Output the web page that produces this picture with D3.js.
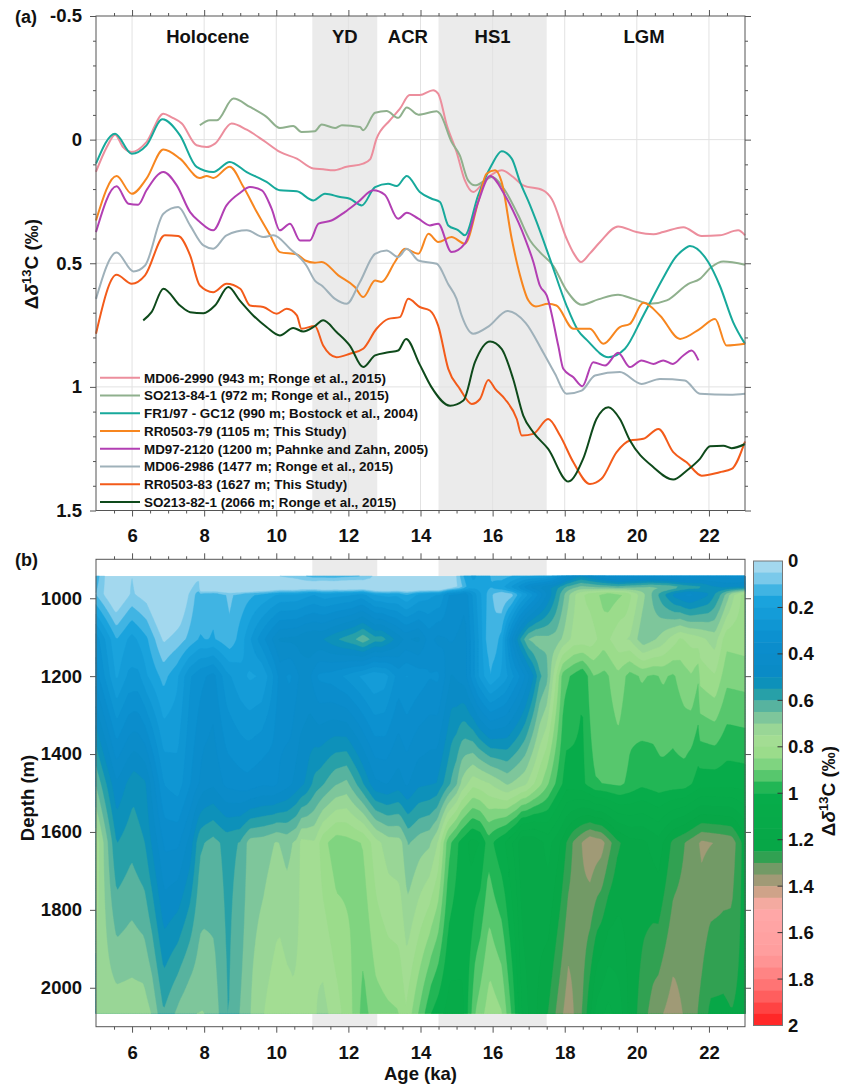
<!DOCTYPE html>
<html><head><meta charset="utf-8">
<script src="https://cdn.jsdelivr.net/npm/d3@7"></script>
<style>
body{margin:0;background:#fff}
text{font-family:"Liberation Sans",Arial,Helvetica,sans-serif;font-weight:bold;fill:#111}
</style></head>
<body><svg id="c" width="848" height="1088"></svg>
<script>
// ---------- data ----------
const coreNames = [
 "MD06-2990 (943 m; Ronge et al., 2015)",
 "SO213-84-1 (972 m; Ronge et al., 2015)",
 "FR1/97 - GC12 (990 m; Bostock et al., 2004)",
 "RR0503-79 (1105 m; This Study)",
 "MD97-2120 (1200 m; Pahnke and Zahn, 2005)",
 "MD06-2986 (1477 m; Ronge et al., 2015)",
 "RR0503-83 (1627 m; This Study)",
 "SO213-82-1 (2066 m; Ronge et al., 2015)"];
const coreDepths = [943, 972, 990, 1105, 1200, 1477, 1627, 2066];

const md062990 = [[5,0.13],[5.3,0.03],[5.53,-0.02],[5.75,0.03],[5.99,0.05],[6.4,0.01],[6.87,-0.105],[7.1,-0.09],[7.38,-0.065],[7.79,0.023],[8.07,0.03],[8.3,0.016],[8.76,-0.065],[9.18,-0.04],[9.64,0.003],[10.1,0.05],[10.57,0.077],[11.03,0.117],[11.3,0.12],[11.58,0.124],[11.95,0.11],[12.41,0.097],[12.6,0.08],[12.78,-0.004],[13.15,-0.078],[13.43,-0.125],[13.7,-0.18],[13.98,-0.18],[14.35,-0.2],[14.49,-0.186],[14.73,-0.058],[15.0,0.05],[15.23,0.165],[15.46,0.212],[15.83,0.158],[16.25,0.124],[16.57,0.151],[16.85,0.185],[17.4,0.205],[17.64,0.24],[18.05,0.4],[18.25,0.46],[18.45,0.495],[18.7,0.46],[18.98,0.414],[19.48,0.351],[19.99,0.374],[20.46,0.383],[20.73,0.374],[21.29,0.354],[21.8,0.39],[22.3,0.387],[22.81,0.367],[23,0.387]];
const so213841 = [[7.88,-0.058],[8.16,-0.078],[8.35,-0.078],[8.81,-0.166],[9.27,-0.132],[9.73,-0.092],[10.1,-0.047],[10.47,-0.055],[10.7,-0.031],[11.07,-0.034],[11.26,-0.061],[11.63,-0.047],[11.82,-0.058],[12.32,-0.051],[12.41,-0.038],[12.74,-0.109],[13.06,-0.116],[13.38,-0.088],[13.62,-0.13],[13.94,-0.101],[14.45,-0.115],[14.54,-0.105],[14.86,0.009],[15.09,0.064],[15.32,0.165],[15.51,0.185],[15.79,0.165],[15.97,0.151],[16.34,0.205],[16.71,0.306],[17.04,0.408],[17.31,0.455],[17.68,0.51],[18.05,0.61],[18.47,0.668],[18.93,0.646],[19.48,0.627],[19.9,0.644],[20.36,0.664],[20.83,0.65],[21.43,0.583],[21.75,0.563],[22.07,0.515],[22.4,0.493],[23,0.506]];
const fr197gc12 = [[5,0.097],[5.53,-0.024],[5.99,0.057],[6.4,0.023],[6.84,-0.082],[7.33,-0.017],[7.79,0.11],[8.25,0.131],[8.71,0.09],[9.18,0.131],[9.73,0.171],[10.1,0.205],[10.57,0.209],[11.03,0.246],[11.35,0.219],[11.77,0.232],[12.04,0.239],[12.37,0.266],[12.74,0.192],[13.1,0.178],[13.34,0.188],[13.62,0.147],[13.98,0.212],[14.31,0.239],[14.54,0.252],[14.77,0.347],[15.05,0.367],[15.23,0.387],[15.6,0.225],[15.97,0.104],[16.25,0.047],[16.53,0.077],[16.76,0.171],[17.04,0.266],[17.22,0.333],[17.59,0.482],[18.05,0.671],[18.37,0.772],[18.61,0.81],[19.21,0.88],[19.67,0.846],[20.18,0.711],[20.73,0.56],[21.05,0.48],[21.33,0.441],[21.47,0.43],[21.98,0.495],[22.3,0.59],[22.67,0.738],[23,0.826]];
const rr050379 = [[5,0.327],[5.57,0.147],[5.99,0.219],[6.4,0.158],[6.87,0.04],[7.33,0.077],[7.88,0.155],[8.07,0.147],[8.25,0.155],[8.71,0.11],[9.09,0.192],[9.46,0.293],[9.83,0.387],[10.1,0.455],[10.57,0.464],[10.8,0.489],[11.07,0.498],[11.26,0.495],[11.72,0.549],[12.18,0.596],[12.41,0.637],[12.74,0.57],[12.92,0.576],[13.29,0.495],[13.57,0.441],[13.94,0.462],[14.22,0.381],[14.49,0.414],[14.86,0.394],[15.23,0.421],[15.6,0.252],[15.83,0.138],[16.07,0.124],[16.25,0.171],[16.53,0.401],[16.76,0.549],[16.99,0.65],[17.2,0.675],[17.54,0.664],[17.77,0.671],[18.24,0.765],[18.7,0.765],[19.07,0.826],[19.53,0.758],[19.81,0.745],[20.18,0.66],[20.64,0.711],[21.2,0.806],[21.75,0.765],[22.17,0.725],[22.49,0.833],[23,0.826]];
const md972120 = [[5,0.374],[5.57,0.189],[5.9,0.259],[6.17,0.263],[6.4,0.205],[6.87,0.131],[7.24,0.185],[7.61,0.293],[7.88,0.333],[8.25,0.367],[8.62,0.266],[9.0,0.215],[9.27,0.192],[9.6,0.205],[9.87,0.279],[10.1,0.367],[10.38,0.34],[10.66,0.408],[10.93,0.408],[11.17,0.34],[11.53,0.327],[11.9,0.293],[12.27,0.252],[12.69,0.205],[13.01,0.223],[13.38,0.32],[13.62,0.296],[13.94,0.32],[14.26,0.347],[14.49,0.34],[14.86,0.455],[15.23,0.421],[15.6,0.252],[15.93,0.147],[16.34,0.225],[16.71,0.333],[16.9,0.4],[17.13,0.495],[17.31,0.59],[17.5,0.63],[17.82,0.833],[17.96,0.927],[18.24,0.961],[18.49,0.997],[18.79,0.9],[19.12,0.914],[19.48,0.862],[19.81,0.92],[20.13,0.893],[20.46,0.907],[20.73,0.893],[21.0,0.907],[21.29,0.873],[21.52,0.853],[21.71,0.893]];
const md062986 = [[5,0.644],[5.57,0.457],[6.04,0.533],[6.36,0.509],[6.87,0.3],[7.28,0.273],[7.61,0.347],[7.98,0.428],[8.25,0.441],[8.62,0.387],[9.18,0.367],[9.64,0.394],[9.92,0.387],[10.38,0.441],[10.84,0.51],[11.07,0.57],[11.26,0.59],[11.63,0.644],[11.95,0.664],[12.32,0.576],[12.74,0.462],[13.06,0.448],[13.38,0.475],[13.62,0.441],[13.94,0.489],[14.45,0.502],[14.77,0.585],[15.0,0.644],[15.14,0.711],[15.46,0.785],[15.9,0.754],[16.41,0.693],[16.92,0.742],[17.4,0.86],[17.73,0.947],[18.05,1.028],[18.47,1.015],[18.84,0.954],[19.53,0.94],[20.13,0.988],[20.64,0.968],[21.33,0.974],[21.75,1.028],[22.58,1.032],[23,1.028]];
const rr050383 = [[5,0.785],[5.57,0.547],[5.99,0.583],[6.36,0.549],[6.91,0.387],[7.28,0.39],[7.61,0.468],[7.88,0.59],[8.25,0.617],[8.62,0.583],[9.0,0.603],[9.27,0.671],[9.64,0.677],[10.01,0.704],[10.29,0.684],[10.57,0.711],[10.7,0.765],[11.07,0.754],[11.3,0.833],[11.67,0.88],[12.04,0.866],[12.41,0.846],[12.78,0.765],[13.11,0.725],[13.43,0.718],[13.66,0.644],[13.98,0.677],[14.26,0.691],[14.49,0.752],[14.77,0.927],[15.09,1.008],[15.42,1.069],[15.65,1.049],[15.88,0.972],[16.07,1.008],[16.34,1.049],[16.67,1.13],[16.81,1.197],[17.13,1.19],[17.54,1.13],[17.87,1.197],[18.24,1.305],[18.7,1.393],[19.02,1.372],[19.44,1.264],[19.81,1.217],[20.18,1.21],[20.6,1.17],[21.01,1.264],[21.38,1.305],[21.8,1.359],[22.3,1.345],[22.63,1.332],[23,1.221]];
const so213821 = [[6.31,0.731],[6.54,0.698],[6.87,0.603],[7.33,0.671],[7.61,0.698],[7.98,0.702],[8.3,0.671],[8.67,0.596],[8.99,0.651],[9.36,0.711],[9.73,0.758],[10.1,0.792],[10.47,0.762],[10.75,0.776],[11.07,0.754],[11.3,0.731],[11.67,0.778],[12.04,0.833],[12.41,0.92],[12.74,0.873],[13.11,0.86],[13.38,0.853],[13.6,0.806],[13.98,0.91],[14.3,1.0],[14.82,1.076],[15.19,1.055],[15.51,0.9],[15.93,0.816],[16.25,0.846],[16.57,0.968],[16.85,1.116],[17.13,1.184],[17.54,1.251],[18.1,1.383],[18.51,1.291],[18.88,1.13],[19.21,1.082],[19.53,1.13],[19.81,1.217],[20.46,1.325],[21.01,1.375],[21.38,1.339],[21.75,1.291],[22.03,1.24],[22.4,1.238],[22.63,1.248],[23,1.231]];
const coreSeries = [md062990, so213841, fr197gc12, rr050379, md972120, md062986, rr050383, so213821];

const periodNames = ["Holocene","YD","ACR","HS1","LGM"];
const periodCenters = [8.1, 11.9, 13.65, 16.0, 20.2];
const shadedStarts = [11.0, 14.5];
const shadedEnds = [12.8, 17.5];
const ageTicks = [6,8,10,12,14,16,18,20,22];
const d13Ticks = [-0.5,0,0.5,1,1.5];
const depthTicks = [1000,1200,1400,1600,1800,2000];
const cbTicks = [0,0.2,0.4,0.6,0.8,1,1.2,1.4,1.6,1.8,2];

// ---------- styles ----------
const lineColors = ["#ec8e9d","#8fb08d","#17a99b","#f7861f","#b23fb3","#9fb1ba","#f35b1a","#0e4a1b"];
const cmapStops = [0,0.05,0.1,0.15,0.25,0.35,0.5,0.55,0.6,0.65,0.72,0.8,0.9,0.95,1.0,1.25,1.3,1.35,1.4,1.45,1.5,1.7,1.85,2.0];
const cmapColors = ["#b4def0","#92d1ec","#62c1e7","#1da6df","#1198d5","#0b8ece","#0a8ac4","#0f97b0","#3ea9a1","#70bd9d","#98d596","#a8e091","#72d07a","#3dbf60","#07ad4a","#07a647","#5b9b5d","#8a9870","#b59b7b","#e9aa96","#ffa9a9","#ff9c9c","#ff6c6c","#ff1a1a"];
const color = d3.scaleLinear().domain(cmapStops).range(cmapColors).clamp(true);

const svg = d3.select("#c");
const FONT = 18.5;

// ---------- scales ----------
const xA = d3.scaleLinear([5,23],[96,745]);
const yA = d3.scaleLinear([-0.5,1.5],[16,510.5]);
const yB = d3.scaleLinear([900,2100],[559.3,1026.7]);
const cbY = d3.scaleLinear([0,2],[561,1025.5]);
const cbX0 = 753.5, cbX1 = 782.5;

function minorRange(a,b,s,major){return d3.range(a,b+s/2,s).map(v=>+v.toFixed(4)).filter(v=>!major.some(m=>Math.abs(m-v)<1e-6));}
const ageMinor = minorRange(5,23,0.5,ageTicks.concat([5,23]));
const d13Minor = minorRange(-0.5,1.5,0.1,d13Ticks);

function drawAxis(gen, ty, tx, major, minor, labels, pad){
  const g = svg.append("g").attr("transform",`translate(${tx},${ty})`);
  if(minor.length){
    g.append("g").call(gen.tickValues(minor).tickSize(3).tickSizeOuter(0).tickFormat(""))
      .call(s=>s.select(".domain").remove());
  }
  const gm = g.append("g").call(gen.tickValues(major).tickSize(6).tickSizeOuter(0)
      .tickPadding(pad).tickFormat(labels?(d=>String(d)):""))
    .call(s=>s.select(".domain").remove());
  g.selectAll("line").attr("stroke","#555");
  gm.selectAll("text").style("font-size",FONT+"px").attr("fill","#111");
}

// ================= PANEL A =================
svg.append("g").selectAll("rect").data(shadedStarts).join("rect")
  .attr("x",(d)=>xA(d)).attr("width",(d,i)=>xA(shadedEnds[i])-xA(d))
  .attr("y",yA(-0.5)).attr("height",yA(1.5)-yA(-0.5)).attr("fill","#ebebeb");
svg.append("g").selectAll("line").data(ageTicks).join("line")
  .attr("x1",d=>xA(d)).attr("x2",d=>xA(d)).attr("y1",yA(-0.5)).attr("y2",yA(1.5))
  .attr("stroke","#e2e2e2").attr("stroke-width",1);
svg.append("g").selectAll("line").data([0,0.5,1]).join("line")
  .attr("y1",d=>yA(d)).attr("y2",d=>yA(d)).attr("x1",xA(5)).attr("x2",xA(23))
  .attr("stroke","#e2e2e2").attr("stroke-width",1);
svg.append("g").selectAll("text").data(periodNames).join("text")
  .attr("x",(d,i)=>xA(periodCenters[i])).attr("y",43).attr("text-anchor","middle")
  .style("font-size","18.5px").text(d=>d);
const line = d3.line().x(d=>xA(d[0])).y(d=>yA(d[1])).curve(d3.curveMonotoneX);
svg.append("g").selectAll("path").data(coreSeries).join("path")
  .attr("d",line).attr("fill","none").attr("stroke",(d,i)=>lineColors[i])
  .attr("stroke-width",2).attr("stroke-linejoin","round");
const lg = svg.append("g");
coreNames.forEach((nm,i)=>{
  const y = 377.7 + i*17.75;
  lg.append("line").attr("x1",100).attr("x2",140).attr("y1",y).attr("y2",y)
    .attr("stroke",lineColors[i]).attr("stroke-width",2);
  lg.append("text").attr("x",144).attr("y",y).attr("dy","0.36em")
    .style("font-size","13.4px").attr("fill","#1a1a1a").text(nm);
});
svg.append("rect").attr("x",xA(5)).attr("y",yA(-0.5)).attr("width",xA(23)-xA(5))
  .attr("height",yA(1.5)-yA(-0.5)).attr("fill","none").attr("stroke","#555").attr("stroke-width",1);
drawAxis(d3.axisLeft(yA), 0, xA(5), d13Ticks, d13Minor, true, 8);
drawAxis(d3.axisRight(yA), 0, xA(23), d13Ticks, d13Minor, false, 3);
drawAxis(d3.axisTop(xA), yA(-0.5), 0, ageTicks, ageMinor, false, 3);
drawAxis(d3.axisBottom(xA), yA(1.5), 0, ageTicks, ageMinor, true, 12.5);

function deltaLabel(x, y){
  const t = svg.append("text").attr("transform",`translate(${x},${y}) rotate(-90)`)
    .attr("text-anchor","middle").style("font-size","19px");
  t.append("tspan").text("Δ");
  t.append("tspan").style("font-style","italic").text("δ");
  t.append("tspan").attr("dy",-7).style("font-size","13px").text("13");
  t.append("tspan").attr("dy",7).text("C (‰)");
}
deltaLabel(38, 264);
svg.append("text").attr("x",15).attr("y",23).style("font-size","18px").text("(a)");

// ================= PANEL B =================
const xB = xA;
svg.append("g").selectAll("rect").data(shadedStarts).join("rect")
  .attr("x",(d)=>xB(d)).attr("width",(d,i)=>xB(shadedEnds[i])-xB(d))
  .attr("y",yB(900)).attr("height",yB(2100)-yB(900)).attr("fill","#ebebeb");

// gridded field derived from the cores (linear in depth at each age)
function valueAt(pts, a, hold){
  if(a < pts[0][0]) return hold ? pts[0][1] : null;
  if(a > pts[pts.length-1][0]) return hold ? pts[pts.length-1][1] : null;
  const i = d3.bisector(d=>d[0]).left(pts, a);
  if(i===0) return pts[0][1];
  const p0 = pts[i-1], p1 = pts[i];
  return p0[1] + (p1[1]-p0[1])*(a-p0[0])/(p1[0]-p0[0]);
}
const nA = 361, nD = 250;
const dMin = coreDepths[0], dMax = coreDepths[coreDepths.length-1];
const grid = new Float64Array(nA*nD);
for(let i=0;i<nA;i++){
  const a = 5 + i*18/(nA-1);
  const pts = [];
  coreSeries.forEach((s,k)=>{
    const v = valueAt(s, a, k===0 || k===coreSeries.length-1);
    if(v!==null) pts.push([coreDepths[k], v]);
  });
  for(let j=0;j<nD;j++){
    const d = dMin + j*(dMax-dMin)/(nD-1);
    let v;
    if(d<=pts[0][0]) v = pts[0][1];
    else if(d>=pts[pts.length-1][0]) v = pts[pts.length-1][1];
    else {
      let k=1; while(pts[k][0]<d) k++;
      const p0=pts[k-1], p1=pts[k];
      v = p0[1] + (p1[1]-p0[1])*(d-p0[0])/(p1[0]-p0[0]);
    }
    grid[j*nA+i] = v;
  }
}
const bandStep = 0.05;
const thresholds = d3.range(1,40).map(k=>+(k*bandStep).toFixed(3));
const contours = d3.contours().size([nA,nD]).thresholds(thresholds)(grid);
const proj = d3.geoTransform({point(x,y){
  const a = Math.max(5, Math.min(23, 5 + (x-0.5)*18/(nA-1)));
  const d = Math.max(dMin, Math.min(dMax, dMin + (y-0.5)*(dMax-dMin)/(nD-1)));
  this.stream.point(xB(a), yB(d));
}});
const gp = d3.geoPath(proj);
const cg = svg.append("g");
cg.append("rect").attr("x",xB(5)).attr("y",yB(dMin)).attr("width",xB(23)-xB(5))
  .attr("height",yB(dMax)-yB(dMin)).attr("fill",color(bandStep/2));
cg.selectAll("path").data(contours).join("path").attr("d",gp)
  .attr("fill",d=>color(d.value+bandStep/2)).attr("stroke",d=>color(d.value+bandStep/2)).attr("stroke-width",0.4);

svg.append("rect").attr("x",xB(5)).attr("y",yB(900)).attr("width",xB(23)-xB(5))
  .attr("height",yB(2100)-yB(900)).attr("fill","none").attr("stroke","#555").attr("stroke-width",1);
drawAxis(d3.axisLeft(yB), 0, xB(5), depthTicks, [], true, 8);
drawAxis(d3.axisRight(yB), 0, xB(23), depthTicks, [], false, 3);
drawAxis(d3.axisTop(xB), yB(900), 0, ageTicks, ageMinor, false, 3);
drawAxis(d3.axisBottom(xB), yB(2100), 0, ageTicks, ageMinor, true, 13.5);

svg.append("text").attr("x",xB(14)).attr("y",1080).attr("text-anchor","middle")
  .style("font-size","18.5px").text("Age (ka)");
svg.append("text").attr("transform","translate(34,798) rotate(-90)").attr("text-anchor","middle")
  .style("font-size","18.5px").text("Depth (m)");
svg.append("text").attr("x",15).attr("y",566).style("font-size","18px").text("(b)");

// colorbar
const cbBands = d3.range(0,40).map(k=>k*bandStep);
svg.append("g").selectAll("rect").data(cbBands).join("rect")
  .attr("x",cbX0).attr("width",cbX1-cbX0)
  .attr("y",d=>cbY(d)).attr("height",d=>cbY(d+bandStep)-cbY(d)+0.5)
  .attr("fill",d=>color(d+bandStep/2));
svg.append("rect").attr("x",cbX0).attr("y",cbY(0)).attr("width",cbX1-cbX0)
  .attr("height",cbY(2)-cbY(0)).attr("fill","none").attr("stroke","#777").attr("stroke-width",1);
svg.append("g").selectAll("line").data(cbTicks.slice(1,-1)).join("line")
  .attr("x1",cbX1-5).attr("x2",cbX1).attr("y1",d=>cbY(d)).attr("y2",d=>cbY(d)).attr("stroke","#333");
svg.append("g").selectAll("text").data(cbTicks).join("text")
  .attr("x",788).attr("y",d=>cbY(d)).attr("dy","0.35em").style("font-size","18.5px")
  .text(d=>String(d));
deltaLabel(835, 791);
</script></body></html>
